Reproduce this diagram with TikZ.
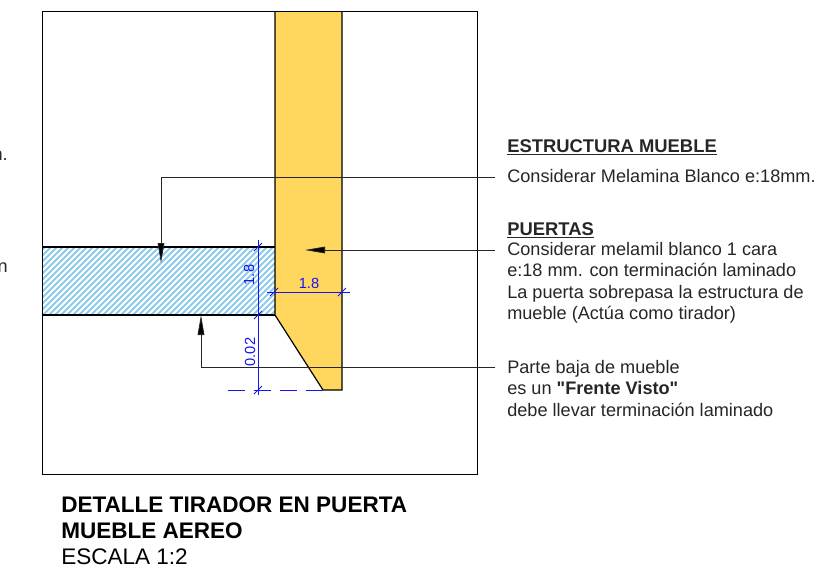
\documentclass[tikz,border=0pt]{standalone}
\usepackage{fontspec}
\setmainfont{Liberation Sans}
\newfontfamily\straightfont{Liberation Sans}
\usepackage{tikz}
\usetikzlibrary{positioning}
\usetikzlibrary{arrows.meta}
\definecolor{doorfill}{HTML}{FFD75E}
\definecolor{hatchblue}{HTML}{8CCBEE}
\definecolor{dimblue}{HTML}{1414F0}
\definecolor{leadgray}{HTML}{262626}
\tikzset{
  outline/.style={draw=black, line width=0.9pt},
  leader/.style={draw=leadgray, line width=0.6pt},
  pointer/.style={leader, -{Triangle[length=15pt, width=5pt, fill=black]}},
  dimline/.style={draw=dimblue, line width=0.75pt},
  dimtext/.style={text=dimblue, font=\fontsize{11}{11}\selectfont, inner sep=0pt},
  note/.style={align=left, anchor=north west, inner sep=0pt, text=black!85,
    font=\fontsize{13.6}{16.1}\selectfont},
  headnote/.style={note, font=\fontsize{13.8}{16.1}\bfseries\selectfont},
  title/.style={align=left, anchor=west, inner sep=0pt, font=\fontsize{16.9}{20}\selectfont},
  boldtitle/.style={title, font=\fontsize{16.9}{20}\bfseries\selectfont}
}
\newcommand{\dimtick}[1]{\draw[dimline] ([shift={(-4,4)}]#1) -- ([shift={(4,-4)}]#1);}
\begin{document}
\begin{tikzpicture}[x=0.75pt, y=-0.75pt]
    \useasboundingbox (0,0) rectangle (826,576);

    % hatched panel
    \begin{scope}
      \clip (42,247) rectangle (275,315);
      \foreach \x in {-40,-34,...,330} {
        \draw[hatchblue, line width=1.4pt] (\x,320) -- ++(80,-80);
      }
    \end{scope}

    \fill[doorfill] (275,11) -- (342,11) -- (342,390) -- (323,390) -- (275,315) -- cycle;

    \node(frame) [draw=black, line width=0.75pt, minimum width=326.25pt, minimum height=347.25pt,
      inner sep=0pt, anchor=north west] at (42,11) {};

    \draw [outline] (275,11) -- (275,315) -- (323,390) -- (342,390) -- (342,11);
    \draw [outline] (42,247) -- (275,247);
    \draw [outline] (42,315) -- (275,315);

    % texts
    \node(cutone) [anchor=east, inner sep=0pt, text=black!85, font=\fontsize{13.6}{16}\selectfont] at (8,156) {n.};
    \node(cuttwo) [anchor=east, inner sep=0pt, text=black!85, font=\fontsize{13.6}{16}\selectfont] at (8,268) {n};

    \node(struct) [headnote] at (507,139) {\underline{ESTRUCTURA MUEBLE}};
    \node(structnote) [note] at (507,169) {Considerar Melamina Blanco e:18mm.};
    \node(door) [headnote] at (507,222) {\underline{PUERTAS}};
    \node(doornote) [note] at (507,242) {Considerar melamil blanco 1 cara\\e:18 mm. con terminación laminado\\La puerta sobrepasa la estructura de\\mueble (Actúa como tirador)};
    \node(basenote) [note] at (507,360) {Parte baja de mueble\\es un {\straightfont\bfseries "Frente Visto"}\\debe llevar terminación laminado};

    \node(detail) [boldtitle] at (61,505) {DETALLE TIRADOR EN PUERTA};
    \node(aereo) [boldtitle, below = 19.5pt of detail.west, anchor=west] {MUEBLE AEREO};
    \node(scale) [title, below = 19.5pt of aereo.west, anchor=west] {ESCALA 1:2};

    % leaders
    \coordinate (structbend) at (161,177);
    \coordinate (structtip) at (161,263);
    \coordinate (doortip) at (305,250);
    \coordinate (basebend) at (201,367);
    \coordinate (basetip) at (201,315);
    \coordinate (structend) at (495,177);
    \coordinate (doorend) at (495,250);
    \coordinate (baseend) at (495,367);

    \draw [pointer] (structend) -- (structbend) -- (structtip);
    \draw [pointer] (doorend) -- (doortip);
    \draw [pointer] (baseend) -- (basebend) -- (basetip);

    % dimensions
    \coordinate (dimtop) at (258,247);
    \coordinate (dimmid) at (258,315);
    \coordinate (dimlow) at (258,390);
    \coordinate (dimleft) at (274,292);
    \coordinate (dimright) at (342,292);
    \coordinate (dimstart) at (258,240);
    \coordinate (dimstop) at (258,395);
    \coordinate (dimin) at (267,292);
    \coordinate (dimout) at (350,292);
    \coordinate (dashin) at (228,390);
    \coordinate (dashout) at (323,390);

    \draw [dimline] (dimstart) -- (dimstop);
    \draw [dimline] (dimin) -- (dimout);
    \draw [dimline, dash pattern=on 13pt off 6.5pt] (dashin) -- (dashout);
    \dimtick{dimtop}
    \dimtick{dimmid}
    \dimtick{dimlow}
    \dimtick{dimleft}
    \dimtick{dimright}

    \node(sidelabel) [dimtext] at (309,283) {1.8};
    \node(heightlabel) [dimtext, rotate=90] at (249,275) {1.8};
    \node(gaplabel) [dimtext, rotate=90] at (250,352) {0.02};
  \end{tikzpicture}
\end{document}
